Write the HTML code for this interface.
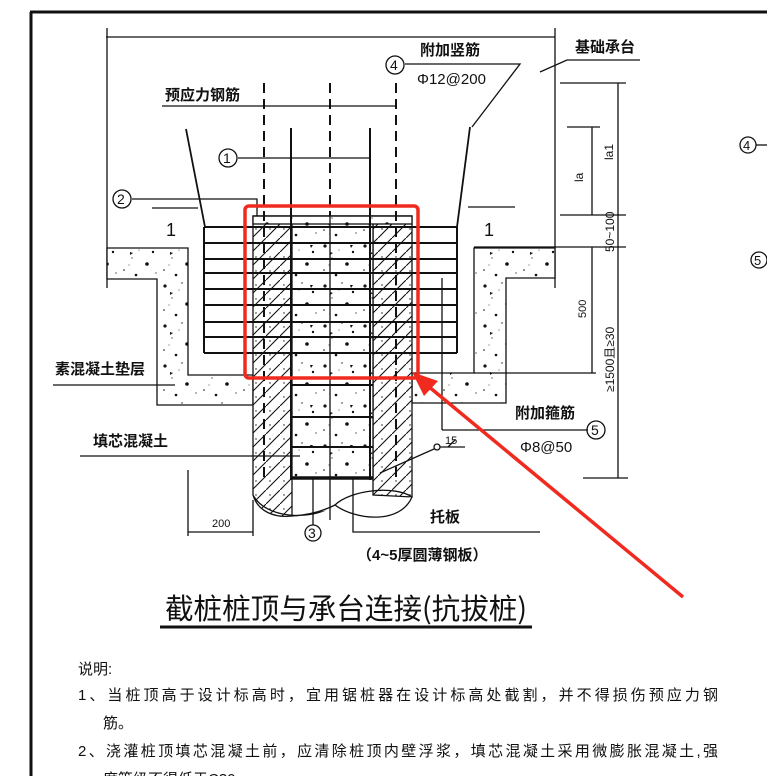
<!DOCTYPE html>
<html><head><meta charset="utf-8"><style>
html,body{margin:0;padding:0;background:#fff;}
svg{display:block;}
text{font-family:"Liberation Sans","Noto Sans CJK SC",sans-serif;fill:#111;}
.cjk{font-family:"Noto Sans CJK SC","WenQuanYi Zen Hei",sans-serif;}
</style></head><body>
<svg width="767" height="776" viewBox="0 0 767 776" xmlns="http://www.w3.org/2000/svg">
<defs>
<pattern id="dots" width="40" height="40" patternUnits="userSpaceOnUse">
<rect width="40" height="40" fill="#fff"/>
<circle cx="5" cy="6" r="1.6" fill="#111"/><circle cx="22" cy="3" r="0.7" fill="#111"/>
<circle cx="33" cy="12" r="1.2" fill="#111"/><circle cx="12" cy="18" r="0.6" fill="#111"/>
<circle cx="27" cy="24" r="1.8" fill="#111"/><circle cx="4" cy="30" r="0.8" fill="#111"/>
<circle cx="16" cy="35" r="1.3" fill="#111"/><circle cx="36" cy="33" r="0.6" fill="#111"/>
<circle cx="19" cy="10" r="0.5" fill="#111"/><circle cx="9" cy="25" r="0.5" fill="#111"/>
<polygon points="30,5 33,5 31,8" fill="#111"/><polygon points="10,12 13,13 10,15" fill="#111"/>
</pattern>
<pattern id="hatch" width="14" height="14" patternUnits="userSpaceOnUse">
<rect width="14" height="14" fill="#fff"/>
<circle cx="4" cy="5" r="0.7" fill="#111"/>
<line x1="0" y1="14" x2="14" y2="0" stroke="#111" stroke-width="1.1"/>
</pattern>
</defs>
<g stroke="#111" fill="none" stroke-width="1.3">
<!-- border -->
<line x1="30" y1="12" x2="767" y2="12" stroke-width="3"/>
<line x1="31" y1="12" x2="31" y2="776" stroke-width="3"/>
<!-- cap outline -->
<line x1="106" y1="37" x2="555" y2="37"/>
<line x1="107" y1="28" x2="107" y2="288"/>
<line x1="555" y1="28" x2="555" y2="288"/>
<!-- pads -->
<polygon points="107,248 188,248 188,375 253,375 253,405 157,405 157,279 107,279" fill="url(#dots)"/>
<polygon points="474,248 555,248 555,278 506,278 506,403 412,403 412,373 474,373" fill="url(#dots)"/>
<!-- pile walls -->
<path d="M253,216 L253,495 C258,512 275,518 292,516 L292,216 Z" fill="url(#hatch)"/>
<path d="M373,216 L373,495 L412,497 L412,216 Z" fill="url(#hatch)"/>
<rect x="292" y="216" width="81" height="262" fill="url(#dots)"/>
<rect x="253" y="216" width="159" height="8" fill="url(#dots)"/>
<line x1="253" y1="216" x2="412" y2="216"/>
<!-- bottom lobes -->
<path d="M253,495 C265,518 310,522 335,505 C350,490 395,485 412,497"/>
<path d="M292,516 C310,515 325,510 335,505 C355,520 400,525 412,497" fill="#fff"/>
<line x1="292" y1="478" x2="373" y2="478" stroke-width="3.5"/>
<line x1="292" y1="385" x2="373" y2="385" stroke-width="2"/>
<line x1="292" y1="417" x2="373" y2="417" stroke-width="2"/>
<line x1="292" y1="447" x2="373" y2="447" stroke-width="2"/>
<line x1="330" y1="216" x2="330" y2="520"/>
<!-- bars -->
<g stroke-width="2">
<line x1="204" y1="227" x2="457" y2="227"/><line x1="204" y1="243" x2="457" y2="243"/>
<line x1="204" y1="259" x2="457" y2="259"/><line x1="204" y1="273" x2="457" y2="273"/>
<line x1="204" y1="289" x2="457" y2="289"/><line x1="204" y1="305" x2="457" y2="305"/>
<line x1="204" y1="322" x2="457" y2="322"/><line x1="204" y1="337" x2="457" y2="337"/>
<line x1="204" y1="353" x2="457" y2="353"/>
<line x1="204" y1="227" x2="204" y2="353"/><line x1="457" y1="227" x2="457" y2="353"/>
</g>
<!-- slants -->
<line x1="186" y1="129" x2="205" y2="227" stroke-width="1.8"/>
<line x1="470" y1="127" x2="457" y2="227" stroke-width="1.8"/>
<line x1="152" y1="208" x2="198" y2="208"/>
<line x1="468" y1="207" x2="515" y2="207"/>
<!-- dashed prestress -->
<g stroke-dasharray="10,6" stroke-width="2">
<line x1="264" y1="83" x2="264" y2="480"/>
<line x1="330" y1="83" x2="330" y2="216"/>
<line x1="396" y1="83" x2="396" y2="480"/>
</g>
<line x1="291" y1="128" x2="291" y2="480" stroke-width="2"/>
<line x1="370" y1="128" x2="370" y2="480" stroke-width="2"/>
<line x1="442" y1="278" x2="442" y2="430"/>
<line x1="442" y1="430" x2="588" y2="430"/>
<!-- leaders -->
<line x1="162" y1="106" x2="396" y2="106"/>
<line x1="238" y1="158" x2="370" y2="158"/>
<polyline points="132,199 257,199 257,216"/>
<polyline points="405,64 520,64 472,127"/>
<polyline points="540,72 567,60 640,60"/>
<line x1="53" y1="385" x2="175" y2="385"/>
<line x1="80" y1="456" x2="300" y2="456"/>
<!-- 15 -->
<circle cx="437" cy="447" r="3"/>
<line x1="434" y1="449" x2="380" y2="473"/>
<line x1="440" y1="447" x2="465" y2="447"/>
<line x1="448" y1="447" x2="455" y2="440"/>
<!-- 200 dim -->
<line x1="188" y1="470" x2="188" y2="536"/>
<line x1="253" y1="500" x2="253" y2="536"/>
<line x1="188" y1="532" x2="253" y2="532"/>
<!-- 3 and tuoban -->
<line x1="313" y1="478" x2="313" y2="525"/>
<circle cx="313" cy="533" r="8"/>
<polyline points="353,478 353,532 540,532"/>
<!-- circles -->
<circle cx="228" cy="158" r="9"/>
<circle cx="122" cy="199" r="9"/>
<circle cx="395" cy="65" r="9"/>
<circle cx="596" cy="430" r="9"/>
<circle cx="748" cy="145" r="8"/><line x1="756" y1="145" x2="767" y2="145"/>
<circle cx="759" cy="260" r="8"/>
<!-- dims right -->
<line x1="560" y1="83" x2="626" y2="83"/>
<line x1="567" y1="127" x2="600" y2="127"/>
<line x1="560" y1="215" x2="626" y2="215"/>
<line x1="474" y1="247" x2="626" y2="247"/>
<line x1="474" y1="373" x2="596" y2="373"/>
<line x1="583" y1="478" x2="628" y2="478"/>
<line x1="618" y1="83" x2="618" y2="478"/>
<line x1="592" y1="127" x2="592" y2="215"/>
<line x1="592" y1="247" x2="592" y2="373"/>
<!-- title underline -->
<line x1="160" y1="627" x2="532" y2="627" stroke-width="3"/>
</g>
<!-- text -->
<g class="cjk" font-weight="bold">
<text x="575" y="52" font-size="15">基础承台</text>
<text x="420" y="55" font-size="15">附加竖筋</text>
<text x="165" y="100" font-size="15">预应力钢筋</text>
<text x="55" y="374" font-size="15">素混凝土垫层</text>
<text x="93" y="446" font-size="15">填芯混凝土</text>
<text x="515" y="418" font-size="15">附加箍筋</text>
<text x="430" y="522" font-size="15">托板</text>
<text x="357" y="560" font-size="15">（4~5厚圆薄钢板）</text>
</g>
<text x="417" y="84" font-size="15">Φ12@200</text>
<text x="520" y="452" font-size="15">Φ8@50</text>
<text x="223" y="163" font-size="14">1</text>
<text x="117" y="204" font-size="14">2</text>
<text x="390" y="70" font-size="14">4</text>
<text x="591" y="435" font-size="14">5</text>
<text x="308" y="538" font-size="14">3</text>
<text x="743" y="150" font-size="13">4</text>
<text x="754" y="265" font-size="13">5</text>
<text x="166" y="236" font-size="18" font-family="Liberation Serif">1</text>
<text x="484" y="236" font-size="18" font-family="Liberation Serif">1</text>
<text x="212" y="527" font-size="11">200</text>
<text x="445" y="444" font-size="11">15</text>
<text font-size="12" transform="translate(613,160) rotate(-90)">la1</text>
<text font-size="12" transform="translate(583,182) rotate(-90)">la</text>
<text font-size="12" transform="translate(614,252) rotate(-90)">50~100</text>
<text font-size="11" transform="translate(586,318) rotate(-90)">500</text>
<text font-size="12" transform="translate(614,392) rotate(-90)">≥1500且≥30</text>
<text x="165" y="619" font-size="29" class="cjk" textLength="362" lengthAdjust="spacingAndGlyphs">截桩桩顶与承台连接(抗拔桩)</text>
<g class="cjk" font-size="15">
<text x="78" y="674">说明:</text>
<text x="78" y="700" textLength="640" lengthAdjust="spacing">1、当桩顶高于设计标高时，宜用锯桩器在设计标高处截割，并不得损伤预应力钢</text>
<text x="103" y="728">筋。</text>
<text x="78" y="756" textLength="640" lengthAdjust="spacing">2、浇灌桩顶填芯混凝土前，应清除桩顶内壁浮浆，填芯混凝土采用微膨胀混凝土,强</text>
<text x="103" y="784">度等级不得低于C30</text>
</g>
<!-- red annotations -->
<rect x="245" y="206" width="173" height="172" rx="4" fill="none" stroke="#f02a1e" stroke-width="3.5"/>
<line x1="683" y1="597" x2="428" y2="386" stroke="#f02a1e" stroke-width="3.5"/>
<polygon points="412,372 438,381 424,396" fill="#f02a1e"/>
</svg>
</body></html>
